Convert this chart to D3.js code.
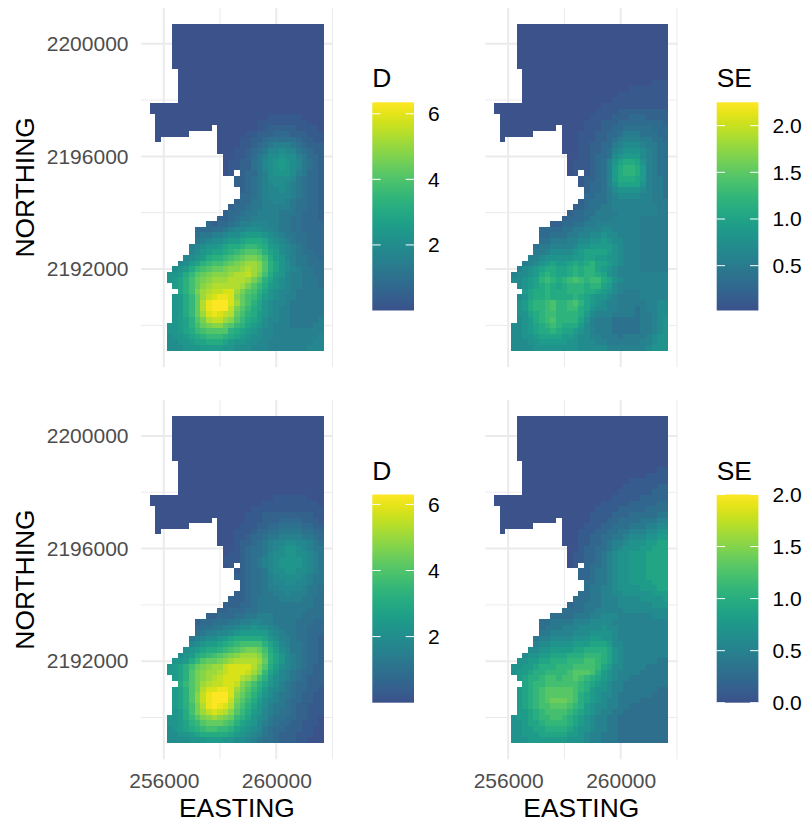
<!DOCTYPE html>
<html>
<head>
<meta charset="utf-8">
<script src="https://cdnjs.cloudflare.com/ajax/libs/d3/7.8.5/d3.min.js"></script>
<style>
  html, body { margin: 0; padding: 0; background: #fff; }
  svg { display: block; }
  text { font-family: "Liberation Sans", Arial, sans-serif; }
</style>
</head>
<body>
<div id="chart"></div>
<script>
//Ejes
const eastingMajor = [256000, 260000], eastingMinor = [258000, 262000];
const northingMajor = [2192000, 2196000, 2200000], northingMinor = [2190000, 2194000, 2198000];
const eastingLabels = ['256000', '260000'], northingLabels = ['2192000', '2196000', '2200000'];

//Rejilla: celdas de 200 m, primer centro y número de filas y columnas
const CELL = 200, FIRST_EASTING = 255600, FIRST_NORTHING = 2200600, N_COLS = 31;

//Tramos [primera, última columna] con dato en cada fila
const cellRuns = [
  [[4,30]],[[4,30]],[[4,30]],[[4,30]],[[4,30]],[[4,30]],[[4,30]],[[4,30]],
  [[5,30]],[[5,30]],[[5,30]],[[5,30]],[[5,30]],[[5,30]],
  [[0,30]],[[0,30]],[[1,30]],[[1,30]],
  [[1,10],[12,30]],[[1,6],[12,30]],[[1,1],[12,30]],[[12,30]],[[12,30]],
  [[13,30]],[[13,30]],[[13,30]],[[13,14],[16,30]],[[15,30]],[[15,30]],
  [[16,30]],[[16,30]],[[15,30]],[[14,30]],[[13,30]],[[12,30]],[[10,30]],
  [[8,30]],[[8,30]],[[8,30]],[[7,30]],[[7,30]],[[6,30]],[[5,30]],[[4,30]],
  [[3,30]],[[3,30]],[[4,30]],[[5,30]],[[4,30]],[[4,30]],[[4,30]],[[4,30]],[[4,30]],
  [[3,30]],[[3,30]],[[3,30]],[[3,30]],[[3,30]]
];

//Valores, un carácter (base 36) por celda, alineados a la derecha
const dTopRows = [
  "0","0","0","0","0","0","0","0","0","0","0","0","0","0","0","0",
  "01111 110000",
  "00001 11111 111000",
  "00001 12222 211110",
  "00112 22333 222111",
  "01122 34444 432211",
  "01123 45666 543222",
  "11234 57787 754322",
  "11235 68898 865332",
  "00001 12245 789a9 875432",
  "00001 12245 789a9 875432",
  "00001 22335 68999 865332",
  "22345 68888 754332",
  "22345 67887 654332",
  "22345 67787 654332",
  "23345 67777 654332",
  "23355 66776 544332",
  "00002 33455 66666 544332",
  "00023 34556 66655 543332",
  "00223 45566 66655 443332",
  "32334 56677 76655 443333",
  "00033 34456 77888 77655 443333",
  "00045 56678 89aaa 98765 544333",
  "00056 7889a abccc b9876 544333",
  "00678 99abc cdeed ca987 654333",
  "00789 abbcd efggf dba87 654433",
  "0789a cddef ghiih fca97 655443",
  "78abd effgh ijkkj gdb98 655444",
  "00008 9acef ghhij jklkj gdb98 765544",
  "00099 acegh ijjjk llmki fca97 665544",
  "0009a bdfhi jkkkl llkig db987 665554",
  "0000a bdfhj kllll lkige ca987 665554",
  "00000 bdfik lmmnn kigfd b9877 655555",
  "00009 acehk mnoon jhfec a9876 655555",
  "00009 acehl opppn khfdb 98776 555555",
  "00009 acehl opppm igecb 98766 555555",
  "00009 acehk nonml hfdca 98766 555555",
  "00009 abdgi lmmkj gecba 87766 555556",
  "00099 abdfh ijjhg edba9 87666 555566",
  "00099 abcef ggggd cba98 77666 666666",
  "00089 9abcd eeedc ba988 77666 666667",
  "00088 99abb cccba 99887 76666 666677",
  "00088 8999a aaa99 88877 76666 666777"
];
const seTopRows = [
  "0","0","0","0","0","0","0","0","0","0",
  "000111",
  "00001 111111",
  "00111 111111",
  "01111 111111",
  "00001 11111 111111",
  "00011 11222 222222",
  "00111 12223 332222",
  "01112 22333 333332",
  "01112 23344 444333",
  "11122 33455 544433",
  "11122 34566 655443",
  "11223 35677 765544",
  "11223 46788 876544",
  "11233 47899 976544",
  "00001 11234 68abb a86544",
  "00001 11234 69bcc b96544",
  "00001 11234 69bcc b96544",
  "12234 69bbb a96554",
  "12334 68aaa a86554",
  "22334 57888 876554",
  "23344 56777 766554",
  "23444 56666 666555",
  "00002 23445 56666 666655",
  "00023 34455 55666 666655",
  "00233 34555 56666 655555",
  "22334 45566 66666 655555",
  "00033 33445 56667 76666 655555",
  "00033 44455 66778 77666 655555",
  "00044 55566 77889 87766 655555",
  "00455 66667 88999 98766 655555",
  "00556 77778 9aaaa 98766 655555",
  "06678 88889 9aa99 88766 655555",
  "56789 a99ab abcaa 98766 655555",
  "00006 789ab baabc bcca9 87666 655555",
  "00067 789bc baabc bccba 87666 666666",
  "00077 89acd cbcde dcddb a8766 666666",
  "00007 89abc babcc cbcca 97666 666666",
  "00000 9abbc bbbcc cbba9 87655 566666",
  "00007 8abbc bbbbc ba988 76555 566666",
  "00008 9bccd eccde ca987 66555 556677",
  "00008 9bccd eccdd ba877 66555 456677",
  "00008 8abcd dcccc b9766 65555 455677",
  "00007 89bcd ecccc a8655 54444 455678",
  "00077 89abc dcbbb 97655 54444 455678",
  "00077 89abb cbaa9 87655 54444 455678",
  "00077 889aa aa998 77665 55455 556788",
  "00077 78899 99988 77766 55555 566788",
  "00077 77888 88888 77777 66666 667888"
];
const dBottomRows = [
  "0","0","0","0","0","0","0","0","0","0","0","0","0","0",
  "00111 111000",
  "11111 111110",
  "00011 11111 111111",
  "00111 22222 222211",
  "00111 22233 332221",
  "01112 23344 443322",
  "11123 34455 554433",
  "11233 45566 665543",
  "12234 56778 877654",
  "12344 56789 987655",
  "00001 12344 57889 988765",
  "00011 12345 67899 998765",
  "00001 12345 67899 998765",
  "00001 12344 57889 988765",
  "22344 56788 887655",
  "22344 56778 877655",
  "22344 56677 776554",
  "22344 55667 666554",
  "00002 22345 55566 665544",
  "00022 23345 55555 555544",
  "00223 33445 55555 555444",
  "22333 44556 66555 554444",
  "00023 34445 56677 66555 544433",
  "00034 45566 78898 87655 544333",
  "00045 66778 9aaaa a8765 544333",
  "00567 889ab ccccc b9866 544332",
  "00789 aabcd effff db976 554332",
  "089ab ccdef ghiih fca87 554332",
  "89acd efghi jkkkj gdb97 654332",
  "00009 9aceg hhijk llllk hdb97 654332",
  "0009a bdfhi jkkmn nnnlj gca87 654322",
  "000aa bdgij kklmn nnmki eb976 543322",
  "0000a bdgij klmnn nlkif da876 543222",
  "00000 cegik lmmnn mjhfd b9865 433222",
  "0000a bdgil nnoon kigec a8765 433221",
  "0000a bdgjm opppn jhfdb 98655 432211",
  "0000a bdgjm opppm igeca 87654 332211",
  "0000a bdfil oponl hfdb9 86554 322111",
  "00009 acfik mnmlj geca9 76544 322111",
  "00099 acegi jkjih edb98 75443 322110",
  "00099 abdeg hhhgf dba97 65433 221110",
  "00089 abcde ffeed ba987 54332 221100",
  "00088 99abc ccccb a9876 54322 211100",
  "00088 88999 aaa99 88765 44322 211000"
];
const seBottomRows = [
  "0","0","0","0","0","0","0","0","0",
  "000011",
  "001111",
  "00001 111111",
  "00011 111122",
  "00111 111222",
  "01111 122222",
  "00001 11112 222233",
  "00011 11222 223333",
  "00111 12223 333344",
  "00111 22333 344455",
  "01112 23334 445566",
  "11122 33445 556677",
  "11223 34456 667788",
  "11223 45567 778899",
  "12233 45677 788999",
  "00001 12234 56778 889999",
  "00001 12234 56778 889999",
  "00001 22334 56778 889999",
  "22344 56778 889999",
  "22344 56778 889999",
  "23344 56778 888999",
  "23445 56777 788899",
  "33445 56677 777888",
  "00003 33445 55666 677778",
  "00023 34445 55666 666777",
  "00333 34455 55566 666666",
  "33334 44556 66555 555666",
  "00033 44445 55666 65555 555555",
  "00034 44555 66667 66555 555555",
  "00044 55556 66777 76555 555555",
  "00455 66667 77887 76555 555555",
  "00566 77778 88999 86655 555555",
  "06677 88889 9aaaa 97655 555555",
  "67788 999aa abbba 97655 555555",
  "00007 78899 aaabb bccba 97655 555544",
  "00077 889aa abbbc cccb9 86655 554444",
  "00078 89aab bbbcd ddca8 76555 544444",
  "00008 9aabc cbccd cba98 76554 444444",
  "00000 9abbc ccccc ba987 65544 444444",
  "00008 9abcd ddddc ba877 65544 444433",
  "00008 9abcd ddddc a9876 65444 444333",
  "00008 9abcd eeedc a9876 55444 433333",
  "00008 9abcc dddcb a8766 55443 333333",
  "00008 89abc cccba 98765 54433 333333",
  "00078 89abb ccba9 87655 44333 333333",
  "00077 899ab bbba9 87655 44333 333333",
  "00077 8899a aaa98 77655 44333 333333",
  "00077 88899 99988 76554 44333 333333",
  "00077 78888 88877 76554 44333 333333"
];

//Paso de cada carácter, títulos y escalas de las leyendas
const legendTitles = ['D', 'SE', 'D', 'SE'];
const levelSteps = [0.254, 0.1, 0.252, 0.1];
const legendMin = [0, 0.02, 0, 0];
const legendMax = [6.35, 2.25, 6.3, 2];
const legendTicks = [[2, 4, 6], [0.5, 1, 1.5, 2], [2, 4, 6], [0, 0.5, 1, 1.5, 2]];
const legendFormats = ['d', '.1f', 'd', '.1f'];

const width = 804, height = 822;
const panelWidth = 191.8, panelHeight = 359.3;
const colLeft = [141, 485.4], rowTop = [7.7, 399.9];
const COLOR_TICK = '#4D4D4D', COLOR_GRID = '#EBEBEB';

const svg = d3.select('#chart').append('svg')
    .attr('width', width)
    .attr('height', height);

const defs = svg.append('defs');

let x = d3.scaleLinear().domain([255190, 262010]).range([0, panelWidth]);
let y = d3.scaleLinear().domain([2188520, 2201280]).range([panelHeight, 0]);

function parseRows(rows, step) {
    return rows.map(function(row) {
        return row.replace(/ /g, '').padStart(N_COLS, '0').split('').map(function(c) {
            return parseInt(c, 36) * step;
        });
    });
}

//Cada panel: rejilla, celdas, ejes y leyenda
function drawPanel(rows, i) {
    let col = i % 2, row = Math.floor(i / 2);
    let values = parseRows(rows, levelSteps[i]);
    let g = svg.append('g')
        .attr('transform', 'translate(' + colLeft[col] + ',' + rowTop[row] + ')');

    function vLines(ticks, w) {
        g.append('g').selectAll('line').data(ticks).enter().append('line')
            .attr('x1', function(d) { return x(d); })
            .attr('x2', function(d) { return x(d); })
            .attr('y1', 0).attr('y2', panelHeight)
            .attr('stroke', COLOR_GRID).attr('stroke-width', w);
    }
    function hLines(ticks, w) {
        g.append('g').selectAll('line').data(ticks).enter().append('line')
            .attr('y1', function(d) { return y(d); })
            .attr('y2', function(d) { return y(d); })
            .attr('x1', 0).attr('x2', panelWidth)
            .attr('stroke', COLOR_GRID).attr('stroke-width', w);
    }
    vLines(eastingMinor, 1);
    hLines(northingMinor, 1);
    vLines(eastingMajor, 2);
    hLines(northingMajor, 2);

    let fill = d3.scaleLinear().domain([legendMin[i], legendMax[i]]).range([0.25, 1]).clamp(true);

    let cells = [];
    cellRuns.forEach(function(runs, r) {
        runs.forEach(function(run) {
            d3.range(run[0], run[1] + 1).forEach(function(c) {
                cells.push({
                    easting: FIRST_EASTING + c * CELL,
                    northing: FIRST_NORTHING - r * CELL,
                    value: values[r][c]
                });
            });
        });
    });

    g.append('g').selectAll('rect').data(cells).enter().append('rect')
        .attr('x', function(d) { return x(d.easting - CELL / 2); })
        .attr('y', function(d) { return y(d.northing + CELL / 2); })
        .attr('width', function(d) { return x(d.easting + CELL / 2) - x(d.easting - CELL / 2); })
        .attr('height', function(d) { return y(d.northing - CELL / 2) - y(d.northing + CELL / 2); })
        .attr('shape-rendering', 'crispEdges')
        .attr('fill', function(d) { return d3.interpolateViridis(fill(d.value)); });

    //Eje Y solo a la izquierda, eje X solo abajo
    if (col == 0) {
        let yAxis = d3.axisLeft(y).tickValues(northingMajor)
            .tickFormat(function(d, k) { return northingLabels[k]; })
            .tickSize(0).tickPadding(12.5);
        let ya = g.append('g').call(yAxis);
        ya.select('.domain').remove();
        ya.selectAll('text').attr('font-size', 21).attr('fill', COLOR_TICK)
            .attr('font-family', '"Liberation Sans", Arial, sans-serif');

        g.append('text')
            .attr('transform', 'translate(' + (-107) + ',' + (panelHeight / 2) + ') rotate(-90)')
            .attr('text-anchor', 'middle')
            .attr('font-size', 26.4)
            .text('NORTHING');
    }
    if (row == 1) {
        let xAxis = d3.axisBottom(x).tickValues(eastingMajor)
            .tickFormat(function(d, k) { return eastingLabels[k]; })
            .tickSize(0).tickPadding(14);
        let xa = g.append('g').attr('transform', 'translate(0,' + panelHeight + ')').call(xAxis);
        xa.select('.domain').remove();
        xa.selectAll('text').attr('font-size', 21).attr('fill', COLOR_TICK)
            .attr('font-family', '"Liberation Sans", Arial, sans-serif');

        g.append('text')
            .attr('x', panelWidth / 2)
            .attr('y', panelHeight + 58)
            .attr('text-anchor', 'middle')
            .attr('font-size', 26.4)
            .text('EASTING');
    }

    //Leyenda
    let barW = 41.7, barH = 208.2;
    let lg = g.append('g').attr('transform', 'translate(' + (231.3) + ',' + (94.6) + ')');
    let ly = d3.scaleLinear().domain([legendMin[i], legendMax[i]]).range([barH, 0]);

    let grad = defs.append('linearGradient')
        .attr('id', 'grad' + i)
        .attr('x1', 0).attr('x2', 0).attr('y1', 1).attr('y2', 0);
    d3.range(0, 21).forEach(function(k) {
        grad.append('stop')
            .attr('offset', (k * 5) + '%')
            .attr('stop-color', d3.interpolateViridis(0.25 + 0.75 * k / 20));
    });

    lg.append('rect')
        .attr('width', barW).attr('height', barH)
        .attr('fill', 'url(#grad' + i + ')');

    lg.append('g').selectAll('line').data(legendTicks[i]).enter().append('g')
        .each(function(d) {
            [[0, barW / 5], [barW * 4 / 5, barW]].forEach((p) => {
                d3.select(this).append('line')
                    .attr('x1', p[0]).attr('x2', p[1])
                    .attr('y1', ly(d)).attr('y2', ly(d))
                    .attr('stroke', '#fff').attr('stroke-width', 1);
            });
        });

    let la = lg.append('g').attr('transform', 'translate(' + barW + ',0)')
        .call(d3.axisRight(ly).tickValues(legendTicks[i]).tickFormat(d3.format(legendFormats[i])).tickSize(0).tickPadding(14));
    la.select('.domain').remove();
    la.selectAll('text').attr('font-size', 21).attr('fill', '#000')
        .attr('font-family', '"Liberation Sans", Arial, sans-serif');

    lg.append('text')
        .attr('x', 0).attr('y', -15)
        .attr('font-size', 26.4)
        .text(legendTitles[i]);
}

[dTopRows, seTopRows, dBottomRows, seBottomRows].forEach(drawPanel);
</script>
</body>
</html>
